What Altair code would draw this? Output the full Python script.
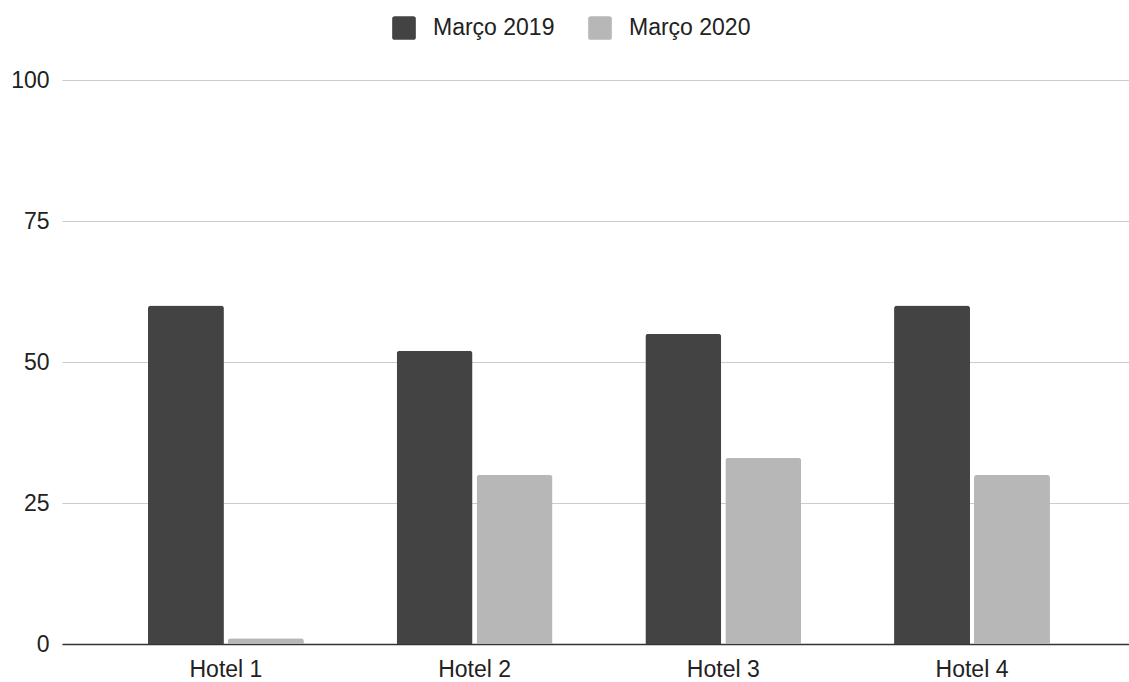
import altair as alt
import pandas as pd

hotels = ["Hotel 1", "Hotel 2", "Hotel 3", "Hotel 4"]
marco_2019 = [60, 52, 55, 60]
marco_2020 = [1, 30, 33, 30]
series = ["Março 2019", "Março 2020"]
colors = ["#434343", "#b7b7b7"]

rows = []
for h, a, b in zip(hotels, marco_2019, marco_2020):
    rows.append({"hotel": h, "serie": series[0], "valor": a})
    rows.append({"hotel": h, "serie": series[1], "valor": b})
df = pd.DataFrame(rows)

FONT = "Liberation Sans"
TEXT = "#222222"
# rounded square legend swatch, in Vega's -1..1 symbol space
ROUNDED_SQUARE = (
    "M-0.78,-1 L0.78,-1 Q1,-1 1,-0.78 L1,0.78 Q1,1 0.78,1 "
    "L-0.78,1 Q-1,1 -1,0.78 L-1,-0.78 Q-1,-1 -0.78,-1 Z"
)

chart = (
    alt.Chart(df)
    .mark_bar(cornerRadiusTopLeft=3, cornerRadiusTopRight=3)
    .encode(
        x=alt.X(
            "hotel:N",
            sort=hotels,
            title=None,
            scale=alt.Scale(paddingInner=0.373, paddingOuter=0.3317, align=0.521),
            axis=alt.Axis(
                labelAngle=0,
                labelFontSize=23,
                labelFont=FONT,
                labelColor=TEXT,
                labelPadding=14,
                ticks=False,
                domainColor="#333333",
                domainWidth=1.5,
                grid=False,
            ),
        ),
        xOffset=alt.XOffset("serie:N", sort=series, scale=alt.Scale(paddingInner=0.05)),
        y=alt.Y(
            "valor:Q",
            title=None,
            scale=alt.Scale(domain=[0, 100], nice=False),
            axis=alt.Axis(
                values=[0, 25, 50, 75, 100],
                labelFontSize=23,
                labelFont=FONT,
                labelColor=TEXT,
                labelPadding=13,
                ticks=False,
                domain=False,
                gridColor="#cccccc",
                gridWidth=1.2,
            ),
        ),
        color=alt.Color(
            "serie:N",
            sort=series,
            scale=alt.Scale(domain=series, range=colors),
            legend=alt.Legend(
                title=None,
                orient="none",
                direction="horizontal",
                legendX=330,
                legendY=-64,
                symbolType=ROUNDED_SQUARE,
                symbolSize=560,
                symbolStrokeWidth=0,
                labelFontSize=23,
                labelFont=FONT,
                labelColor=TEXT,
                labelOffset=17,
                columnPadding=33,
                padding=0,
            ),
        ),
    )
    .properties(
        width=1067,
        height=564,
        autosize=alt.AutoSizeParams(type="none"),
        padding={"left": 62, "top": 80, "right": 0, "bottom": 38},
    )
    .configure_view(stroke=None)
)

chart.save("out.html", embed_options={"renderer": "svg", "actions": False})
